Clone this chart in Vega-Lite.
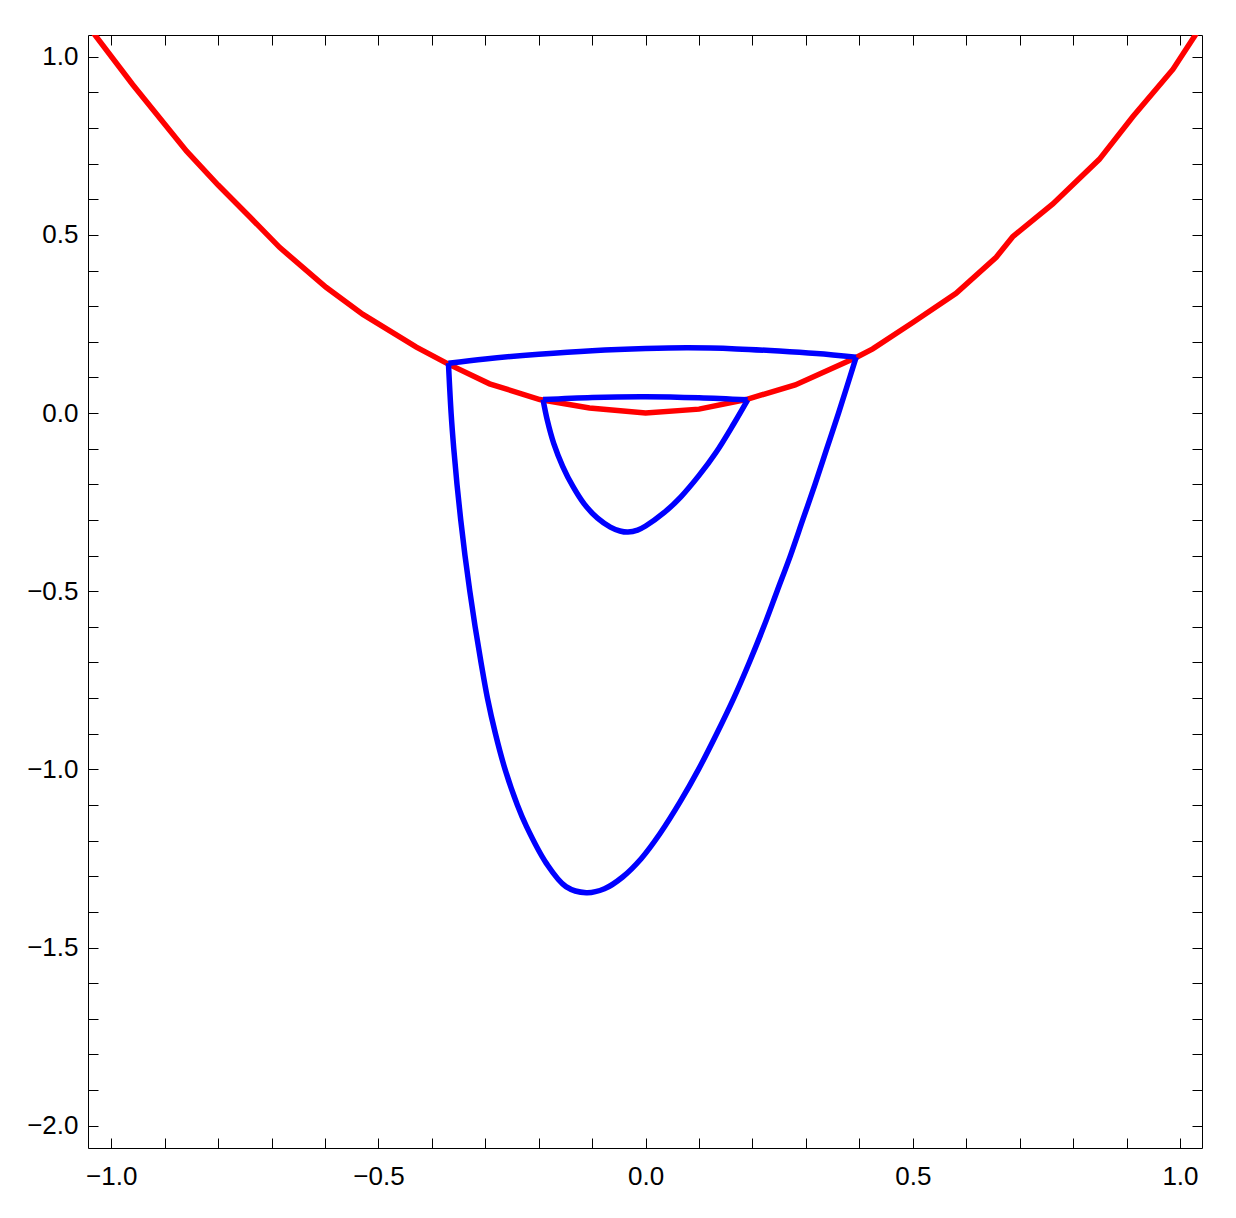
{
  "$schema": "https://vega.github.io/schema/vega-lite/v6.json",
  "autosize": "none",
  "width": 1114,
  "height": 1113,
  "padding": {"left": 88, "top": 35, "right": 34, "bottom": 70},
  "background": "white",
  "config": {
    "view": {"stroke": null},
    "axis": {
      "grid": false,
      "title": null,
      "domainColor": "black",
      "domainWidth": 1,
      "tickColor": "black",
      "tickWidth": 1,
      "tickSize": -10,
      "labelColor": "black",
      "labelFont": "Liberation Sans",
      "labelFontSize": 26,
      "labelFlush": false,
      "labelOverlap": false
    }
  },
  "datasets": {
    "red": [
      {"x": -1.05, "y": 1.1025}, {"x": -1.034, "y": 1.068}, {"x": -0.96, "y": 0.922},
      {"x": -0.859, "y": 0.735}, {"x": -0.80, "y": 0.64}, {"x": -0.741, "y": 0.551},
      {"x": -0.685, "y": 0.465}, {"x": -0.598, "y": 0.353}, {"x": -0.529, "y": 0.277},
      {"x": -0.429, "y": 0.185}, {"x": -0.37, "y": 0.138}, {"x": -0.292, "y": 0.082},
      {"x": -0.198, "y": 0.038}, {"x": -0.105, "y": 0.014}, {"x": 0.0, "y": 0.0},
      {"x": 0.1, "y": 0.011}, {"x": 0.188, "y": 0.038}, {"x": 0.28, "y": 0.079},
      {"x": 0.394, "y": 0.156}, {"x": 0.425, "y": 0.18}, {"x": 0.50, "y": 0.254},
      {"x": 0.581, "y": 0.336}, {"x": 0.656, "y": 0.437}, {"x": 0.687, "y": 0.495},
      {"x": 0.762, "y": 0.587}, {"x": 0.849, "y": 0.712}, {"x": 0.912, "y": 0.832},
      {"x": 0.987, "y": 0.965}, {"x": 1.03, "y": 1.064}, {"x": 1.05, "y": 1.1025}
    ],
    "blue": [
      {"seg": "outerTop", "i": 0, "x": -0.369, "y": 0.140},
      {"seg": "outerTop", "i": 1, "x": -0.30, "y": 0.152},
      {"seg": "outerTop", "i": 2, "x": -0.20, "y": 0.165},
      {"seg": "outerTop", "i": 3, "x": -0.10, "y": 0.175},
      {"seg": "outerTop", "i": 4, "x": 0.0, "y": 0.181},
      {"seg": "outerTop", "i": 5, "x": 0.08, "y": 0.183},
      {"seg": "outerTop", "i": 6, "x": 0.17, "y": 0.180},
      {"seg": "outerTop", "i": 7, "x": 0.25, "y": 0.174},
      {"seg": "outerTop", "i": 8, "x": 0.32, "y": 0.167},
      {"seg": "outerTop", "i": 9, "x": 0.394, "y": 0.157},
      {"seg": "outerBottom", "i": 0, "x": 0.394, "y": 0.157},
      {"seg": "outerBottom", "i": 1, "x": 0.361, "y": 0.0},
      {"seg": "outerBottom", "i": 2, "x": 0.339, "y": -0.1},
      {"seg": "outerBottom", "i": 3, "x": 0.317, "y": -0.2},
      {"seg": "outerBottom", "i": 4, "x": 0.294, "y": -0.3},
      {"seg": "outerBottom", "i": 5, "x": 0.271, "y": -0.4},
      {"seg": "outerBottom", "i": 6, "x": 0.246, "y": -0.5},
      {"seg": "outerBottom", "i": 7, "x": 0.221, "y": -0.6},
      {"seg": "outerBottom", "i": 8, "x": 0.194, "y": -0.7},
      {"seg": "outerBottom", "i": 9, "x": 0.165, "y": -0.8},
      {"seg": "outerBottom", "i": 10, "x": 0.133, "y": -0.9},
      {"seg": "outerBottom", "i": 11, "x": 0.099, "y": -1.0},
      {"seg": "outerBottom", "i": 12, "x": 0.065, "y": -1.09},
      {"seg": "outerBottom", "i": 13, "x": 0.027, "y": -1.18},
      {"seg": "outerBottom", "i": 14, "x": -0.008, "y": -1.25},
      {"seg": "outerBottom", "i": 15, "x": -0.043, "y": -1.302},
      {"seg": "outerBottom", "i": 16, "x": -0.077, "y": -1.335},
      {"seg": "outerBottom", "i": 17, "x": -0.111, "y": -1.346},
      {"seg": "outerBottom", "i": 18, "x": -0.149, "y": -1.329},
      {"seg": "outerBottom", "i": 19, "x": -0.186, "y": -1.263},
      {"seg": "outerBottom", "i": 20, "x": -0.223, "y": -1.160},
      {"seg": "outerBottom", "i": 21, "x": -0.240, "y": -1.10},
      {"seg": "outerBottom", "i": 22, "x": -0.263, "y": -1.0},
      {"seg": "outerBottom", "i": 23, "x": -0.281, "y": -0.9},
      {"seg": "outerBottom", "i": 24, "x": -0.296, "y": -0.8},
      {"seg": "outerBottom", "i": 25, "x": -0.308, "y": -0.7},
      {"seg": "outerBottom", "i": 26, "x": -0.319, "y": -0.6},
      {"seg": "outerBottom", "i": 27, "x": -0.329, "y": -0.5},
      {"seg": "outerBottom", "i": 28, "x": -0.338, "y": -0.4},
      {"seg": "outerBottom", "i": 29, "x": -0.346, "y": -0.3},
      {"seg": "outerBottom", "i": 30, "x": -0.353, "y": -0.2},
      {"seg": "outerBottom", "i": 31, "x": -0.359, "y": -0.1},
      {"seg": "outerBottom", "i": 32, "x": -0.364, "y": 0.0},
      {"seg": "outerBottom", "i": 33, "x": -0.369, "y": 0.140},
      {"seg": "innerTop", "i": 0, "x": -0.192, "y": 0.038},
      {"seg": "innerTop", "i": 1, "x": -0.10, "y": 0.044},
      {"seg": "innerTop", "i": 2, "x": 0.0, "y": 0.046},
      {"seg": "innerTop", "i": 3, "x": 0.10, "y": 0.043},
      {"seg": "innerTop", "i": 4, "x": 0.191, "y": 0.037},
      {"seg": "innerBottom", "i": 0, "x": 0.191, "y": 0.037},
      {"seg": "innerBottom", "i": 1, "x": 0.165, "y": -0.03},
      {"seg": "innerBottom", "i": 2, "x": 0.132, "y": -0.11},
      {"seg": "innerBottom", "i": 3, "x": 0.100, "y": -0.175},
      {"seg": "innerBottom", "i": 4, "x": 0.066, "y": -0.235},
      {"seg": "innerBottom", "i": 5, "x": 0.035, "y": -0.279},
      {"seg": "innerBottom", "i": 6, "x": 0.0, "y": -0.317},
      {"seg": "innerBottom", "i": 7, "x": -0.015, "y": -0.3285},
      {"seg": "innerBottom", "i": 8, "x": -0.033, "y": -0.334},
      {"seg": "innerBottom", "i": 9, "x": -0.048, "y": -0.331},
      {"seg": "innerBottom", "i": 10, "x": -0.066, "y": -0.320},
      {"seg": "innerBottom", "i": 11, "x": -0.090, "y": -0.295},
      {"seg": "innerBottom", "i": 12, "x": -0.115, "y": -0.255},
      {"seg": "innerBottom", "i": 13, "x": -0.136, "y": -0.206},
      {"seg": "innerBottom", "i": 14, "x": -0.155, "y": -0.15},
      {"seg": "innerBottom", "i": 15, "x": -0.172, "y": -0.085},
      {"seg": "innerBottom", "i": 16, "x": -0.184, "y": -0.02},
      {"seg": "innerBottom", "i": 17, "x": -0.192, "y": 0.038}
    ]
  },
  "resolve": {"scale": {"x": "shared", "y": "shared"}, "axis": {"x": "independent", "y": "independent"}},
  "layer": [
    {
      "data": {"name": "red"},
      "mark": {"type": "line", "color": "#ff0000", "strokeWidth": 5.5, "clip": true},
      "encoding": {
        "x": {
          "field": "x", "type": "quantitative",
          "scale": {"domain": [-1.0435, 1.0412], "nice": false, "zero": false},
          "axis": {
            "orient": "bottom",
            "values": [-1.0, -0.9, -0.8, -0.7, -0.6, -0.5, -0.4, -0.3, -0.2, -0.1, 0.0, 0.1, 0.2, 0.3, 0.4, 0.5, 0.6, 0.7, 0.8, 0.9, 1.0],
            "format": ".1f",
            "labelExpr": "abs(datum.value*2 - round(datum.value*2)) < 0.001 ? datum.label : ''",
            "labelPadding": 25
          }
        },
        "y": {
          "field": "y", "type": "quantitative",
          "scale": {"domain": [-2.0626, 1.061], "nice": false, "zero": false},
          "axis": {
            "orient": "left",
            "values": [-2.0, -1.9, -1.8, -1.7, -1.6, -1.5, -1.4, -1.3, -1.2, -1.1, -1.0, -0.9, -0.8, -0.7, -0.6, -0.5, -0.4, -0.3, -0.2, -0.1, 0.0, 0.1, 0.2, 0.3, 0.4, 0.5, 0.6, 0.7, 0.8, 0.9, 1.0],
            "format": ".1f",
            "labelExpr": "abs(datum.value*2 - round(datum.value*2)) < 0.001 ? datum.label : ''",
            "labelPadding": 20
          }
        },
        "order": {"field": "x", "type": "quantitative"}
      }
    },
    {
      "data": {"name": "blue"},
      "mark": {"type": "line", "color": "#0000ff", "strokeWidth": 5.5, "clip": true, "interpolate": "catmull-rom"},
      "encoding": {
        "x": {
          "field": "x", "type": "quantitative",
          "scale": {"domain": [-1.0435, 1.0412], "nice": false, "zero": false},
          "axis": {
            "orient": "top",
            "values": [-1.0, -0.9, -0.8, -0.7, -0.6, -0.5, -0.4, -0.3, -0.2, -0.1, 0.0, 0.1, 0.2, 0.3, 0.4, 0.5, 0.6, 0.7, 0.8, 0.9, 1.0],
            "labels": false
          }
        },
        "y": {
          "field": "y", "type": "quantitative",
          "scale": {"domain": [-2.0626, 1.061], "nice": false, "zero": false},
          "axis": {
            "orient": "right",
            "values": [-2.0, -1.9, -1.8, -1.7, -1.6, -1.5, -1.4, -1.3, -1.2, -1.1, -1.0, -0.9, -0.8, -0.7, -0.6, -0.5, -0.4, -0.3, -0.2, -0.1, 0.0, 0.1, 0.2, 0.3, 0.4, 0.5, 0.6, 0.7, 0.8, 0.9, 1.0],
            "labels": false
          }
        },
        "detail": {"field": "seg", "type": "nominal"},
        "order": {"field": "i", "type": "quantitative"}
      }
    }
  ]
}
